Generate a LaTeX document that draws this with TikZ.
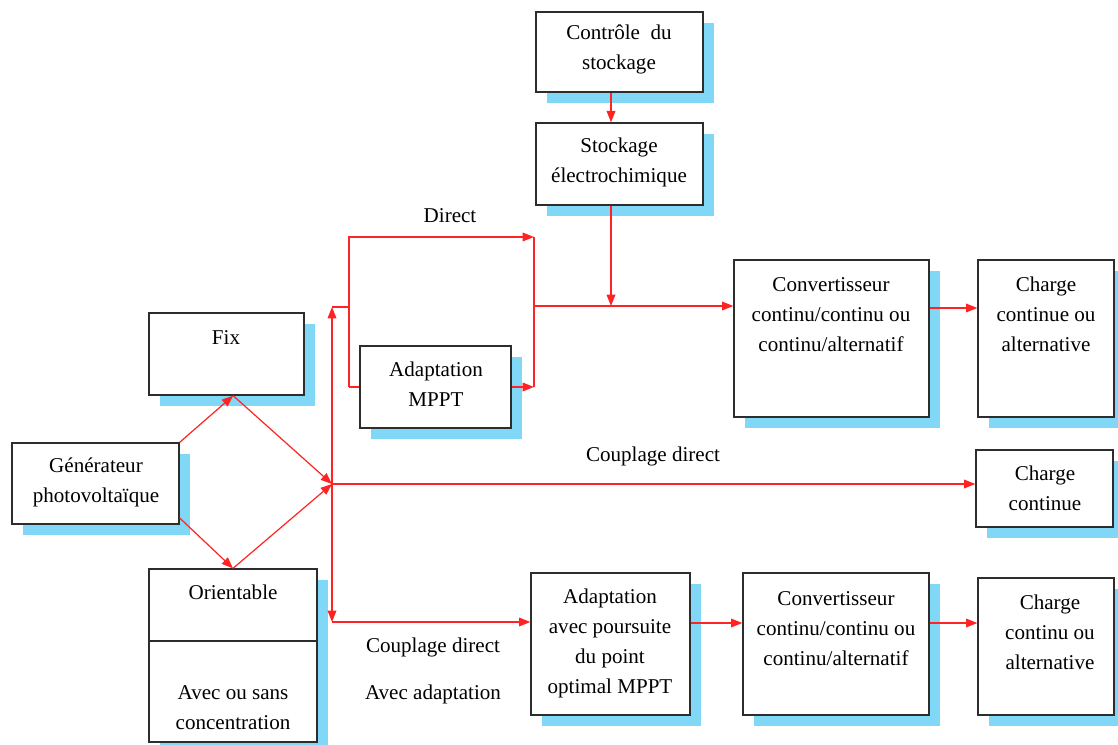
\documentclass[tikz,border=0pt]{standalone}
\usepackage{fontspec}
\setmainfont{Liberation Serif}
\usetikzlibrary{arrows.meta,fit}
\definecolor{shadowblue}{RGB}{128,215,246}
\definecolor{linered}{RGB}{255,35,35}
\definecolor{boxgray}{RGB}{45,45,45}
\tikzset{
  box/.style={draw=boxgray,line width=1pt,fill=white,inner sep=0pt,rectangle},
  conn/.style={draw=linered,line width=0.9pt},
  arr/.style={conn,-{Triangle[length=8.5pt,width=6.5pt]}},
  txt/.style={align=center,inner sep=0pt,yshift=-2pt,font=\fontsize{15.8}{22.5}\selectfont},
}
\newcommand\shadowrect[4]{\fill[shadowblue] (#1+11,#2+11) rectangle (#3+11,#4+11);}
\begin{document}
\begin{tikzpicture}[x=0.75pt,y=-0.75pt]
\useasboundingbox (0,0) rectangle (1118,745);
\fill[white] (0,0) rectangle (1118,745);
% shadows
\shadowrect{536}{12}{703}{92}
\shadowrect{536}{123}{703}{205}
\shadowrect{149}{313}{304}{395}
\shadowrect{12}{443}{179}{524}
\shadowrect{149}{569}{317}{742}
\shadowrect{360}{346}{511}{428}
\shadowrect{734}{260}{929}{417}
\shadowrect{978}{260}{1114}{417}
\shadowrect{976}{450}{1113}{527}
\shadowrect{531}{573}{690}{715}
\shadowrect{743}{573}{929}{715}
\shadowrect{978}{578}{1114}{715}
% boxes
\node[box,fit={(536,12) (703,92)}] (ctrl) {};
\node[box,fit={(536,123) (703,205)}] (stock) {};
\node[box,fit={(149,313) (304,395)}] (fix) {};
\node[box,fit={(12,443) (179,524)}] (gen) {};
\node[box,fit={(149,569) (317,742)}] (orient) {};
\node[box,fit={(360,346) (511,428)}] (mppt) {};
\node[box,fit={(734,260) (929,417)}] (conv) {};
\node[box,fit={(978,260) (1114,417)}] (chargeA) {};
\node[box,fit={(976,450) (1113,527)}] (chargeB) {};
\node[box,fit={(531,573) (690,715)}] (adB) {};
\node[box,fit={(743,573) (929,715)}] (convB) {};
\node[box,fit={(978,578) (1114,715)}] (chargeC) {};
\draw[boxgray,line width=1pt] (orient.west |- 0,641) -- (orient.east |- 0,641);
% texts
\node[txt] (tctrl) at (619,47) {Contrôle\ \ du\\stockage};
\node[txt] (tstock) at (619,160) {Stockage\\électrochimique};
\node[txt] (tfix) at (226,335) {Fix};
\node[txt] (tgen) at (96,480) {Générateur\\photovoltaïque};
\node[txt] (tor) at (233,590) {Orientable};
\node[txt] (tconc) at (233,705) {Avec ou sans\\concentration};
\node[txt] (tmppt) at (436,382) {Adaptation\\MPPT};
\node[txt] (tconv) at (831,312) {Convertisseur\\continu/continu ou\\continu/alternatif};
\node[txt] (tchA) at (1046,312) {Charge\\continue ou\\alternative};
\node[txt] (tchB) at (1045,486) {Charge\\continue};
\node[txt] (tadB) at (610,641) {Adaptation\\avec poursuite\\du point\\optimal MPPT};
\node[txt] (tconvB) at (836,626) {Convertisseur\\continu/continu ou\\continu/alternatif};
\node[txt] (tchC) at (1050,630) {Charge\\continu ou\\alternative};
\node[txt] (ldirect) at (450,213) {Direct};
\node[txt] (lcd1) at (653,454) {Couplage direct};
\node[txt] (lcd2) at (433,645) {Couplage direct};
\node[txt] (lavec) at (433,692) {Avec adaptation};
% coordinates
\coordinate (jT) at (332,307);
\coordinate (jM) at (332,484);
\coordinate (jB) at (332,622);
\coordinate (lt) at (349,237);
\coordinate (rt) at (534,237);
\coordinate (rm) at (534,306);
\coordinate (sx) at (611,0);
\coordinate (yA) at (0,308);
\coordinate (yB) at (0,623);
\coordinate (lb) at (lt |- mppt.west);
\coordinate (rb) at (rt |- mppt.east);
% connectors
\draw[arr] (ctrl.south -| sx) -- (stock.north -| sx);
\draw[arr] (stock.south -| sx) -- (sx |- rm);
\draw[arr] (gen.north east) -- ([xshift=5pt]fix.south);
\draw[arr] ([xshift=5pt]fix.south) -- (jM);
\draw[arr] ([yshift=5pt]gen.south east) -- (orient.north);
\draw[arr] (orient.north) -- (jM);
\draw[arr] (jM) -- (jT);
\draw[conn] (jT) -- (jT -| lt);
\draw[arr] (jM) -- (jB);
\draw[arr] (jB) -- (jB -| adB.west);
\draw[arr] (jM) -- (jM -| chargeB.west);
\draw[arr] (lb) -- (lt) -- (rt);
\draw[conn] (lb) -- (mppt.west);
\draw[arr] (mppt.east) -- (rb);
\draw[conn] (rt) -- (rb);
\draw[arr] (rm) -- (rm -| conv.west);
\draw[arr] (conv.east |- yA) -- (chargeA.west |- yA);
\draw[arr] (adB.east |- yB) -- (convB.west |- yB);
\draw[arr] (convB.east |- yB) -- (chargeC.west |- yB);
\end{tikzpicture}
\end{document}
